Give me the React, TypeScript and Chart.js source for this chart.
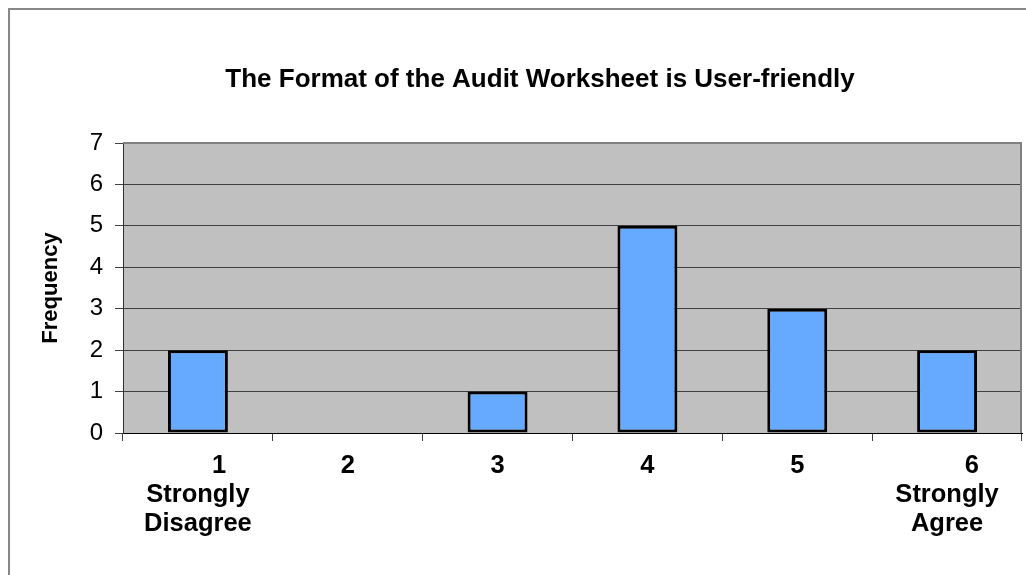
import React, { useEffect, useRef } from "react";
import { Chart, registerables } from "chart.js";

Chart.register(...registerables);

const TITLE = "The Format of the Audit Worksheet is User-friendly";
const Y_TITLE = "Frequency";
const CATEGORY_LABELS: string[][] = [
  ["      1", "Strongly", "Disagree"],
  ["2"],
  ["3"],
  ["4"],
  ["5"],
  ["       6", "Strongly", "Agree"],
];
const FREQUENCIES: number[] = [2, 0, 1, 5, 3, 2];
const Y_MIN = 0;
const Y_MAX = 7;
const Y_STEP = 1;

const FONT = "'Liberation Sans', Arial, sans-serif";

export default function App() {
  const ref = useRef<HTMLCanvasElement | null>(null);

  useEffect(() => {
    if (!ref.current) return;
    const plotPlugin = {
      id: "plotDecor",
      beforeDraw(chart: any) {
        const { ctx, chartArea: a } = chart;
        ctx.save();
        ctx.fillStyle = "#C0C0C0";
        ctx.fillRect(a.left, a.top, a.right - a.left, a.bottom - a.top);
        ctx.restore();
      },
      afterDatasetsDraw(chart: any) {
        const { ctx, chartArea: a } = chart;
        ctx.save();
        ctx.strokeStyle = "#808080";
        ctx.lineWidth = 2;
        ctx.beginPath();
        ctx.moveTo(a.left, a.top);
        ctx.lineTo(a.right - 1, a.top);
        ctx.lineTo(a.right - 1, a.bottom);
        ctx.stroke();
        ctx.restore();
      },
      afterDraw(chart: any) {
        const { ctx } = chart;
        ctx.save();
        ctx.fillStyle = "#000";
        ctx.font = `bold 26px ${FONT}`;
        ctx.textAlign = "center";
        ctx.textBaseline = "alphabetic";
        ctx.fillText(TITLE, 530, 77);
        ctx.restore();
      },
    };

    const chart = new Chart(ref.current, {
      type: "bar",
      data: {
        labels: CATEGORY_LABELS,
        datasets: [
          {
            data: FREQUENCIES,
            backgroundColor: "#66AAFF",
            borderColor: "#000000",
            borderWidth: 3,
            borderSkipped: false,
            barPercentage: 0.4,
            categoryPercentage: 1,
          },
        ],
      },
      options: {
        responsive: false,
        animation: false,
        devicePixelRatio: 1,
        layout: { padding: { top: 133, right: 4, bottom: 0, left: 0 } },
        plugins: {
          legend: { display: false },
          title: { display: false },
          tooltip: { enabled: false },
        },
        scales: {
          x: {
            offset: true,
            grid: {
              offset: true,
              drawOnChartArea: false,
              drawTicks: true,
              tickLength: 8,
              color: "#404040",
            },
            border: { display: true, color: "#000000", width: 1 },
            ticks: {
              color: "#000",
              padding: 11,
              maxRotation: 0,
              autoSkip: false,
              font: { family: FONT, size: 25.5, weight: "bold", lineHeight: 1.13 },
            },
            afterFit(scale: any) {
              scale.height = 142;
            },
          },
          y: {
            min: Y_MIN,
            max: Y_MAX,
            grid: {
              color: "#404040",
              lineWidth: 1,
              tickLength: 8,
              drawTicks: true,
            },
            border: { display: true, color: "#303030", width: 1 },
            ticks: {
              stepSize: Y_STEP,
              color: "#000",
              padding: 12,
              font: { family: FONT, size: 24 },
            },
            title: {
              display: true,
              text: Y_TITLE,
              color: "#000",
              font: { family: FONT, size: 22, weight: "bold", lineHeight: 1.2 },
              padding: { top: 28, bottom: 0 },
            },
            afterFit(scale: any) {
              scale.width = 113;
            },
          },
        },
      },
      plugins: [plotPlugin],
    } as any);

    return () => chart.destroy();
  }, []);

  return (
    <div
      style={{
        position: "fixed",
        left: 8,
        top: 8,
        width: 1018,
        height: 567,
        borderLeft: "2px solid #888",
        borderTop: "2px solid #888",
        boxSizing: "border-box",
        overflow: "hidden",
        background: "#fff",
      }}
    >
      <canvas
        ref={ref}
        width={1016}
        height={565}
        style={{ display: "block", width: 1016, height: 565 }}
      />
    </div>
  );
}
